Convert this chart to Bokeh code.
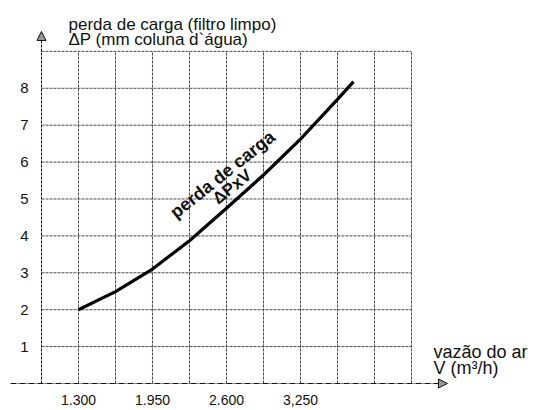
from bokeh.plotting import figure
from bokeh.models import (LinearAxis, FixedTicker, Label, Arrow, NormalHead,
                          ColumnDataSource, Range1d)
from bokeh.embed import file_html
from bokeh.resources import INLINE

# ---- data ----
vazao = [1300, 1625, 1950, 2275, 2600, 2925, 3250, 3575, 3716]      # m3/h
perda = [2.0, 2.49, 3.1, 3.87, 4.75, 5.65, 6.62, 7.7, 8.18]         # mm c.a.

x_ticks = [1300, 1950, 2600, 3250]
x_tick_labels = ["1.300", "1.950", "2.600", "3,250"]
y_ticks = [1, 2, 3, 4, 5, 6, 7, 8]
y_tick_labels = ["1", "2", "3", "4", "5", "6", "7", "8"]

grid_x = [975, 1300, 1625, 1950, 2275, 2600, 2925, 3250, 3575, 3900, 4225]
grid_y = [0, 1, 2, 3, 4, 5, 6, 7, 8, 9]

# ---- layout constants ----
X0, X1 = 614.9, 5331.9
Y0, Y1 = -0.7317, 10.379
FONT = "Liberation Sans"
INK = "#111111"
GRID = "#4a4a4a"

p = figure(width=537, height=410, x_range=Range1d(X0, X1), y_range=Range1d(Y0, Y1),
           x_axis_type=None, y_axis_type=None, output_backend="svg",
           toolbar_location=None, min_border=0)
p.outline_line_color = None
p.background_fill_color = "white"
p.border_fill_color = "white"

xmin, xmax = grid_x[0], grid_x[-1]
ymin, ymax = grid_y[0], grid_y[-1]

# grid (vertical lines, excluding the y axis itself)
vx = grid_x[1:]
p.segment(x0=vx, y0=[ymin] * len(vx), x1=vx, y1=[ymax] * len(vx),
          line_color=GRID, line_width=1, line_dash="3 1")
# grid (horizontal lines, excluding x axis)
hy = grid_y[1:]
p.segment(x0=[xmin] * len(hy), y0=hy, x1=[xmax] * len(hy), y1=hy,
          line_color=GRID, line_width=1, line_dash="3 1")

# y axis line (dashed, with arrow)
p.add_layout(Arrow(x_start=xmin, y_start=ymin, x_end=xmin, y_end=9.54,
                   line_color=INK, line_width=1, line_dash="3 1",
                   end=NormalHead(size=9, fill_color="#999999", line_color=INK, line_width=1)))
# x axis line (with arrow)
p.add_layout(Arrow(x_start=703, y_start=ymin, x_end=4541, y_end=ymin,
                   line_color=INK, line_width=1, line_dash="6 1 1 1",
                   end=NormalHead(size=9, fill_color="#999999", line_color=INK, line_width=1)))

# curve
src = ColumnDataSource(dict(x=vazao, y=perda))
p.line("x", "y", source=src, line_color="black", line_width=3.2, line_join="round")

# axes (only labels)
xa = LinearAxis(ticker=FixedTicker(ticks=x_ticks), fixed_location=0,
                major_label_overrides={t: l for t, l in zip(x_ticks, x_tick_labels)})
ya = LinearAxis(ticker=FixedTicker(ticks=y_ticks), fixed_location=975,
                major_label_overrides={t: l for t, l in zip(y_ticks, y_tick_labels)})
for ax in (xa, ya):
    ax.axis_line_color = None
    ax.major_tick_line_color = None
    ax.minor_tick_line_color = None
    ax.major_label_text_font = FONT
    ax.major_label_text_color = INK
xa.major_label_text_font_size = "14px"
ya.major_label_text_font_size = "15px"
xa.major_label_standoff = 6
ya.major_label_standoff = 7
p.add_layout(xa, "below")
p.add_layout(ya, "left")

def lab(x, y, t, size="17px", **kw):
    p.add_layout(Label(x=x, y=y, text=t, text_font=FONT, text_font_size=size,
                       text_color=INK, **kw))

lab(1212, 9.729, "perda de carga (filtro limpo)", text_baseline="alphabetic")
lab(1212, 9.322, "\u0394P (mm coluna d`\u00e1gua)", text_baseline="alphabetic")
lab(4418, 0.867, "vaz\u00e3o do ar", size="18px", text_baseline="alphabetic")
lab(4418, 0.4065, "V (m\u00b3/h)", size="18px", text_baseline="alphabetic")

lab(2565, 5.664, "perda de carga", size="18px", text_font_style="bold",
    text_align="center", text_baseline="middle", angle=0.675)
lab(2650, 5.33, "\u0394PxV", size="17px", text_font_style="bold",
    text_align="center", text_baseline="middle", angle=0.675)

open("out.html", "w").write(file_html(p, INLINE))
